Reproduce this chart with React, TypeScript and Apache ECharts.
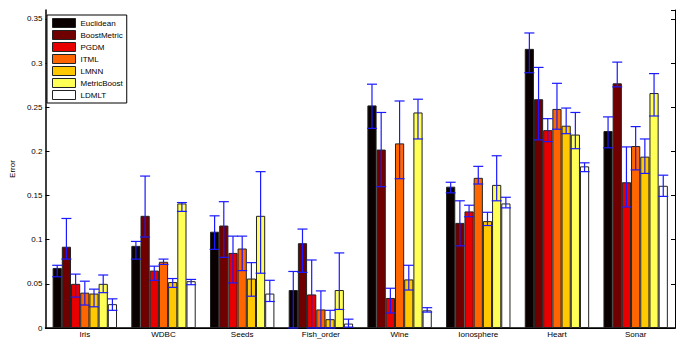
import React, { useEffect, useRef } from "react";
import * as echarts from "echarts";

const categories = ["Iris", "WDBC", "Seeds", "Fish_order", "Wine", "Ionosphere", "Heart", "Sonar"];
const methods = ["Euclidean", "BoostMetric", "PGDM", "ITML", "LMNN", "MetricBoost", "LDMLT"];
const colors = ["#0a0000", "#700000", "#e80000", "#ff6600", "#ffc800", "#ffff55", "#ffffff"];

const euclidean = [0.068, 0.093, 0.109, 0.043, 0.252, 0.160, 0.316, 0.223];
const boostMetric = [0.092, 0.127, 0.116, 0.096, 0.202, 0.119, 0.259, 0.277];
const pgdm = [0.050, 0.065, 0.085, 0.038, 0.034, 0.132, 0.224, 0.165];
const itml = [0.040, 0.075, 0.090, 0.021, 0.209, 0.170, 0.248, 0.206];
const lmnn = [0.039, 0.052, 0.056, 0.010, 0.055, 0.121, 0.229, 0.194];
const metricBoost = [0.050, 0.141, 0.127, 0.043, 0.244, 0.162, 0.219, 0.266];
const ldmlt = [0.027, 0.053, 0.039, 0.005, 0.020, 0.141, 0.183, 0.161];

const euclideanLow = [0.058, 0.078, 0.089, 0.0, 0.226, 0.153, 0.289, 0.204];
const euclideanHigh = [0.071, 0.098, 0.127, 0.064, 0.276, 0.165, 0.334, 0.239];
const boostLow = [0.078, 0.103, 0.080, 0.063, 0.160, 0.093, 0.213, 0.273];
const boostHigh = [0.124, 0.172, 0.143, 0.112, 0.244, 0.144, 0.295, 0.301];
const pgdmLow = [0.035, 0.054, 0.051, 0.0, 0.017, 0.126, 0.211, 0.137];
const pgdmHigh = [0.061, 0.070, 0.104, 0.077, 0.045, 0.139, 0.237, 0.205];
const itmlLow = [0.026, 0.072, 0.065, 0.0, 0.169, 0.163, 0.225, 0.179];
const itmlHigh = [0.053, 0.078, 0.104, 0.042, 0.257, 0.183, 0.277, 0.228];
const lmnnLow = [0.024, 0.046, 0.036, 0.0, 0.043, 0.116, 0.220, 0.175];
const lmnnHigh = [0.044, 0.056, 0.074, 0.020, 0.071, 0.131, 0.249, 0.214];
const mbLow = [0.040, 0.132, 0.062, 0.021, 0.214, 0.144, 0.203, 0.240];
const mbHigh = [0.060, 0.142, 0.177, 0.085, 0.259, 0.195, 0.244, 0.288];
const ldmltLow = [0.020, 0.049, 0.030, 0.001, 0.018, 0.136, 0.177, 0.149];
const ldmltHigh = [0.033, 0.055, 0.054, 0.010, 0.023, 0.148, 0.187, 0.173];

const values = [euclidean, boostMetric, pgdm, itml, lmnn, metricBoost, ldmlt];
const lows = [euclideanLow, boostLow, pgdmLow, itmlLow, lmnnLow, mbLow, ldmltLow];
const highs = [euclideanHigh, boostHigh, pgdmHigh, itmlHigh, lmnnHigh, mbHigh, ldmltHigh];

const BAR_W = 9.2;
const FONT = "Liberation Sans, Arial, sans-serif";

export default function App() {
  const ref = useRef<HTMLDivElement>(null);
  useEffect(() => {
    if (!ref.current) return;
    const chart = echarts.init(ref.current, null, { renderer: "svg" });
    const barSeries = methods.map((m, i) => ({
      name: m,
      type: "bar",
      xAxisIndex: 0,
      yAxisIndex: 0,
      data: values[i],
      barWidth: BAR_W,
      barGap: "0%",
      itemStyle: { color: colors[i], borderColor: "#222", borderWidth: 1 },
      z: 2,
    }));
    const errSeries = methods.map((m, i) => ({
      name: "err-" + m,
      type: "custom",
      xAxisIndex: 0,
      yAxisIndex: 0,
      z: 5,
      data: categories.map((_, c) => [c, lows[i][c], highs[i][c]]),
      renderItem: (params: any, api: any) => {
        const c = api.value(0);
        const lo = api.coord([c, api.value(1)]);
        const hi = api.coord([c, api.value(2)]);
        const x = lo[0] + (i - 3) * BAR_W;
        const hw = 5;
        const style = { stroke: "#1a1aff", lineWidth: 1.2 };
        return {
          type: "group",
          children: [
            { type: "line", shape: { x1: x, y1: lo[1], x2: x, y2: hi[1] }, style },
            { type: "line", shape: { x1: x - hw, y1: lo[1], x2: x + hw, y2: lo[1] }, style },
            { type: "line", shape: { x1: x - hw, y1: hi[1], x2: x + hw, y2: hi[1] }, style },
          ],
        };
      },
    }));
    chart.setOption({
      animation: false,
      backgroundColor: "#fff",
      textStyle: { fontFamily: FONT },
      grid: { left: 40, right: 6, top: 10, bottom: 11, containLabel: false },
      legend: {
        data: methods,
        orient: "vertical",
        left: 47,
        top: 15,
        itemWidth: 23,
        itemHeight: 9,
        itemGap: 2,
        padding: [3, 4, 3, 5],
        borderColor: "#000",
        borderWidth: 1,
        backgroundColor: "#fff",
        icon: "rect",
        itemStyle: { borderColor: "#222", borderWidth: 1 },
        textStyle: { fontSize: 8, color: "#000", fontFamily: FONT, lineHeight: 9 },
      },
      xAxis: [
        {
          type: "category",
          data: categories,
          position: "bottom",
          axisLine: { lineStyle: { color: "#000", width: 1.5 } },
          axisTick: { inside: true, alignWithLabel: true, length: 4, lineStyle: { color: "#000" } },
          axisLabel: { fontSize: 8, color: "#000", margin: 2, fontFamily: FONT },
        },
        {
          type: "category",
          data: categories,
          position: "top",
          axisLine: { lineStyle: { color: "#000", width: 1 } },
          axisTick: { inside: true, alignWithLabel: true, length: 4, lineStyle: { color: "#000" } },
          axisLabel: { show: false },
        },
      ],
      yAxis: [
        {
          type: "value",
          min: 0,
          max: 0.36,
          interval: 0.05,
          position: "left",
          name: "Error",
          nameLocation: "middle",
          nameGap: 26,
          nameTextStyle: { fontSize: 8, color: "#000", fontFamily: FONT },
          axisLine: { show: true, lineStyle: { color: "#000", width: 1.5 } },
          axisTick: { show: true, inside: true, length: 4, lineStyle: { color: "#000" } },
          axisLabel: {
            fontSize: 8,
            color: "#000",
            margin: 3,
            fontFamily: FONT,
            showMaxLabel: false,
            formatter: (v: number) => {
              const r = Math.round(v * 100) / 100;
              return String(r);
            },
          },
          splitLine: { show: false },
        },
        {
          type: "value",
          min: 0,
          max: 0.36,
          interval: 0.05,
          position: "right",
          axisLine: { show: true, lineStyle: { color: "#000", width: 1 } },
          axisTick: { show: true, inside: true, length: 4, lineStyle: { color: "#000" } },
          axisLabel: { show: false },
          splitLine: { show: false },
        },
      ],
      series: [...barSeries, ...errSeries],
    });
    return () => chart.dispose();
  }, []);
  return <div ref={ref} style={{ position: "fixed", left: 0, top: 0, width: 681, height: 339 }} />;
}
